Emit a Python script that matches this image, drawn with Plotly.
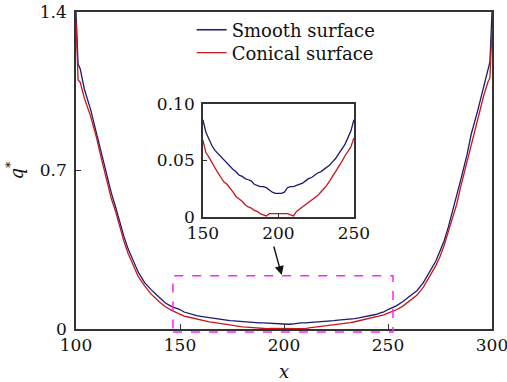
import plotly.graph_objects as go

# ---- data ----
x_vals = [100, 101, 102, 104, 107, 110, 112, 115, 117, 119, 121, 123, 125, 127, 130, 133, 136, 140, 143, 146, 148,
          150, 152, 154, 156, 158, 160, 162, 164, 166, 168, 170, 172, 174, 176, 178, 180, 182, 184, 186, 188,
          190, 192, 194, 196, 198, 200, 202, 204, 206, 208, 210, 212, 214, 216, 218, 220, 222, 224, 226, 228,
          230, 232, 234, 236, 238, 240, 242, 244, 246, 248, 250,
          252, 254, 257, 260, 264, 267, 270, 273, 275, 277, 279, 281, 283, 285, 288, 290, 293, 296, 298, 299, 300]

smooth = [1.40, 1.17, 1.15, 1.06, 0.97, 0.86, 0.79, 0.67, 0.60, 0.54, 0.47, 0.41, 0.355, 0.31, 0.25, 0.205, 0.175, 0.14, 0.115, 0.099, 0.092,
          0.086, 0.075, 0.069, 0.063, 0.059, 0.056, 0.053, 0.050, 0.047, 0.044, 0.042, 0.040, 0.037, 0.036, 0.034, 0.033, 0.032, 0.029, 0.028, 0.027,
          0.027, 0.026, 0.024, 0.022, 0.021, 0.021, 0.021, 0.022, 0.026, 0.027, 0.027, 0.028, 0.029, 0.030, 0.032, 0.034, 0.035, 0.037, 0.039, 0.040,
          0.042, 0.044, 0.046, 0.049, 0.052, 0.056, 0.060, 0.064, 0.070, 0.076, 0.086,
          0.093, 0.102, 0.12, 0.14, 0.17, 0.205, 0.25, 0.30, 0.345, 0.39, 0.45, 0.52, 0.58, 0.66, 0.77, 0.86, 0.96, 1.07, 1.15, 1.18, 1.40]

conical = [1.36, 1.10, 1.09, 1.02, 0.94, 0.84, 0.76, 0.645, 0.575, 0.52, 0.45, 0.39, 0.335, 0.29, 0.23, 0.19, 0.155, 0.12, 0.098, 0.082, 0.074,
           0.068, 0.057, 0.053, 0.048, 0.043, 0.039, 0.035, 0.031, 0.029, 0.026, 0.022, 0.018, 0.016, 0.014, 0.011, 0.009, 0.008, 0.006, 0.005, 0.003,
           0.002, 0.001, 0.003, 0.003, 0.003, 0.003, 0.003, 0.003, 0.003, 0.002, 0.001, 0.005, 0.007, 0.009, 0.011, 0.013, 0.015, 0.017, 0.019, 0.022,
           0.025, 0.028, 0.032, 0.036, 0.041, 0.045, 0.049, 0.054, 0.058, 0.062, 0.070,
           0.076, 0.085, 0.10, 0.12, 0.15, 0.185, 0.23, 0.28, 0.32, 0.37, 0.43, 0.49, 0.55, 0.63, 0.74, 0.82, 0.92, 1.03, 1.09, 1.11, 1.33]

series_names = ["Smooth surface", "Conical surface"]
main_xticks = [100, 150, 200, 250, 300]
main_yticks = [0, 0.7, 1.4]
main_yticklabels = ["0", "0.7", "1.4"]
inset_xticks = [150, 200, 250]
inset_yticks = [0, 0.05, 0.10]
inset_yticklabels = ["0", "0.05", "0.10"]
zoom_box = dict(x0=146.6, x1=252.4, y0=-0.013, y1=0.235)
arrow = dict(x_tail=194.9, y_tail=0.371, x_tip=198.9, y_tip=0.238)

BLUE = "#1b1b6b"
RED = "#c8161d"
FONT = "DejaVu Serif"
XR = [100, 300]
YR = [0, 1.4]

fig = go.Figure()
legends = ["legend", "legend2"]
for name, ys, col, lg in [(series_names[0], smooth, BLUE, legends[0]),
                          (series_names[1], conical, RED, legends[1])]:
    fig.add_trace(go.Scatter(x=x_vals, y=ys, mode="lines", name=name, legend=lg,
                             line=dict(color=col, width=1.3), xaxis="x", yaxis="y"))
for name, ys, col in [(series_names[0], smooth, BLUE), (series_names[1], conical, RED)]:
    xi = [xv for xv in x_vals if 150 <= xv <= 250]
    yi = [yv for xv, yv in zip(x_vals, ys) if 150 <= xv <= 250]
    fig.add_trace(go.Scatter(x=xi, y=yi, mode="lines", name=name, showlegend=False,
                             line=dict(color=col, width=1.3), xaxis="x2", yaxis="y2"))

axis_common = dict(showgrid=False, zeroline=False, showline=True, linecolor="#333333",
                   linewidth=1.5, mirror=True, ticks="inside", tickcolor="#333333",
                   automargin=False, ticklabeloverflow="allow",
                   tickfont=dict(family=FONT, size=17, color="#111111"))

# inset geometry in paper coords (plot area)
ins_x = [0.305, 0.668]
ins_y = [0.353, 0.710]

legend_common = dict(xanchor="left", yanchor="middle", bgcolor="rgba(0,0,0,0)",
                     font=dict(family=FONT, size=18, color="#111111"), itemwidth=30)

fig.update_layout(
    width=507, height=382,
    margin=dict(l=76, r=15, t=12, b=53),
    paper_bgcolor="white", plot_bgcolor="white",
    font=dict(family=FONT, size=17, color="#111111"),
    xaxis=dict(range=XR, tickvals=main_xticks, ticklen=5, domain=[0, 1],
               title=dict(text="<i>x</i>", font=dict(family=FONT, size=18), standoff=12),
               **axis_common),
    yaxis=dict(range=YR, tickvals=main_yticks, ticktext=main_yticklabels, ticklen=5,
               domain=[0, 1], ticklabelstandoff=4,
               title=dict(text="<i>q</i><sup>*</sup>", font=dict(family=FONT, size=18), standoff=12),
               **axis_common),
    xaxis2=dict(range=[150, 250], tickvals=inset_xticks, ticklen=4, domain=ins_x,
                anchor="y2", **axis_common),
    yaxis2=dict(range=[0, 0.10], tickvals=inset_yticks, ticktext=inset_yticklabels, ticklen=4,
                domain=ins_y, anchor="x2", ticklabelstandoff=3, **axis_common),
    legend=dict(x=0.278, y=0.943, **legend_common),
    legend2=dict(x=0.278, y=0.871, **legend_common),
    showlegend=True,
)

def px_x(v):
    return (v - XR[0]) / (XR[1] - XR[0])

def px_y(v):
    return (v - YR[0]) / (YR[1] - YR[0])

fig.add_shape(type="rect", xref="paper", yref="paper",
              x0=px_x(zoom_box["x0"]), x1=px_x(zoom_box["x1"]),
              y0=px_y(zoom_box["y0"]), y1=px_y(zoom_box["y1"]),
              line=dict(color="#ff22ff", width=1.5, dash="dash"), fillcolor="rgba(0,0,0,0)")

fig.add_annotation(x=arrow["x_tip"], y=arrow["y_tip"], ax=arrow["x_tail"], ay=arrow["y_tail"],
                   xref="x", yref="y", axref="x", ayref="y", text="", showarrow=True,
                   arrowhead=2, arrowsize=1.3, arrowwidth=1.4, arrowcolor="#111111")

fig.write_html("out.html")
